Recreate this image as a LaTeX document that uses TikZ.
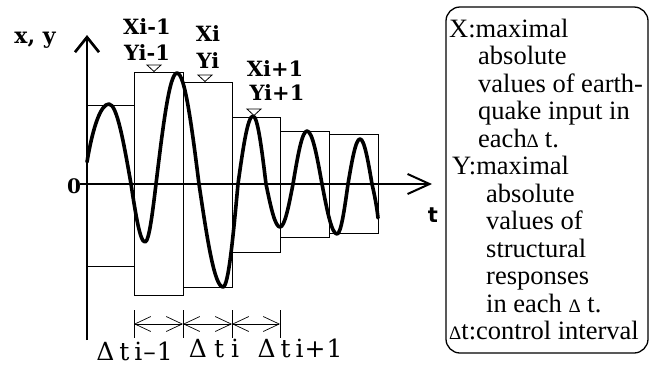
\documentclass[tikz,border=0pt]{standalone}
\usepackage{fontspec}
\usetikzlibrary{arrows.meta}
\newfontfamily\tnr{Liberation Serif}
\newfontfamily\dvserif{DejaVu Serif}
\newfontfamily\dvsb{DejaVu Sans}
\begin{document}
\begin{tikzpicture}[x=1pt,y=-1pt,
  wave/.style={line width=3.6pt, line join=round, line cap=round},
  boxline/.style={line width=0.9pt},
  tri/.style={line width=0.8pt, fill=white},
  dimline/.style={line width=0.7pt},
  dimarrow/.style={dimline, {Straight Barb[length=16pt,width=15pt]}-{Straight Barb[length=16pt,width=15pt]}},
  lab/.style={font=\dvserif\bfseries\fontsize{21}{21}\selectfont, inner sep=0pt},
  boxtxt/.style={font=\tnr\fontsize{26.5}{26.5}\selectfont, anchor=base west, inner sep=0pt},
  dlab/.style={font=\dvserif\fontsize{25}{25}\selectfont, anchor=base, inner sep=0pt}
]
\useasboundingbox (0,0) rectangle (651,365);

% interval boxes
\draw[boxline] (87,105) rectangle (134,266);
\draw[boxline] (134,72) rectangle (183,295);
\draw[boxline] (183,82) rectangle (232,287);
\draw[boxline] (232,117) rectangle (280,252);
\draw[boxline] (280,131) rectangle (329,237);
\draw[boxline] (329,134) rectangle (378,233);

% axes
\coordinate (tstart) at (80,184);
\coordinate (tend) at (432,184);
\coordinate (ybot) at (87,340);
\coordinate (ytop) at (87,35);
\draw[line width=2pt, -{Straight Barb[length=22pt,width=20pt]}] (tstart) -- (tend);
\draw[line width=2.7pt, -{Straight Barb[length=15pt,width=24pt]}] (ybot) -- (ytop);

% wave
\draw[wave] (87,162) .. controls (93,126) and (101,104) .. (109,104)
  cos (131,184) sin (145,242) cos (156,184) sin (177,73)
  cos (199,184) sin (223,287) cos (238,184) sin (253,116)
  cos (266,184) sin (280,227) cos (293,184) sin (307,131)
  cos (322,184) sin (337,234) cos (348,184) sin (360,139)
  cos (372,184) .. controls (375,197) and (377,208) .. (378,218);

% markers
\draw[tri] (147,65) -- (161,65) -- (154,71.5) -- cycle;
\draw[tri] (198,75) -- (212,75) -- (205,81.5) -- cycle;
\draw[tri] (247,109) -- (261,109) -- (254,115.5) -- cycle;

% labels
\node[lab] (xim1) at (147,27) {Xi-1};
\node[lab] (yim1) at (147,53) {Yi-1};
\node[lab] (xi) at (208,34) {Xi};
\node[lab] (yi) at (208,61) {Yi};
\node[lab] (xip1) at (275,69) {Xi+1};
\node[lab] (yip1) at (277,93) {Yi+1};
\node[font=\dvserif\bfseries\fontsize{22}{22}\selectfont, anchor=base, inner sep=0pt] (xy) at (35,43) {x, y};
\node[font=\dvserif\bfseries\fontsize{20}{20}\selectfont, anchor=base, inner sep=0pt] (zero) at (74,193) {0};
\node[font=\dvsb\bfseries\fontsize{21}{21}\selectfont, anchor=base, inner sep=0pt] (tlab) at (433,222) {t};

% control intervals
\coordinate (d0) at (134,324);
\coordinate (d1) at (183,324);
\coordinate (d2) at (232,324);
\coordinate (d3) at (280,324);
\foreach \d in {d0,d1,d2,d3} \draw[dimline] (\d) ++(0,-14) -- ++(0,28);
\draw[dimarrow] (d0) -- (d1);
\draw[dimarrow] (d1) -- (d2);
\draw[dimarrow] (d2) -- (d3);
\node[dlab] (dt1) at (134.5,360) {Δ\hspace{5pt}t\hspace{5pt}i\hspace{1pt}–\hspace{1pt}1};
\node[dlab] (dt2) at (214,357) {Δ\hspace{7pt}t\hspace{7pt}i};
\node[dlab] (dt3) at (300,357) {Δ\hspace{5pt}t\hspace{5pt}i\hspace{1pt}+\hspace{1pt}1};

% legend box
\draw[line width=1.3pt, rounded corners=14pt] (446,7) rectangle (648,353);
\node[boxtxt] (l1) at (449,37) {X:maximal};
\node[boxtxt] (l2) at (478,64.5) {absolute};
\node[boxtxt] (l3) at (478,92) {values of earth-};
\node[boxtxt] (l4) at (478,119.5) {quake input in};
\node[boxtxt] (l5) at (478,147) {each{\fontsize{19}{19}\selectfont Δ}\hspace{6pt}t.};
\node[boxtxt] (l6) at (452,174.5) {Y:maximal};
\node[boxtxt] (l7) at (486,202) {absolute};
\node[boxtxt] (l8) at (486,229.5) {values of};
\node[boxtxt] (l9) at (486,257) {structural};
\node[boxtxt] (l10) at (486,284.5) {responses};
\node[boxtxt] (l11) at (486,312) {in each {\fontsize{19}{19}\selectfont Δ} t.};
\node[boxtxt] (l12) at (449,339.5) {{\fontsize{19}{19}\selectfont Δ}t:control interval};
\end{tikzpicture}
\end{document}
